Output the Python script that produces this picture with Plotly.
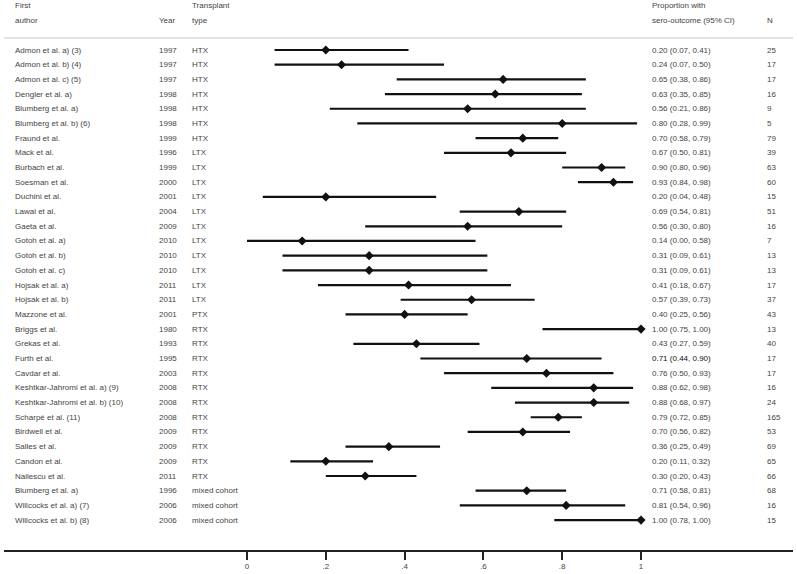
import plotly.graph_objects as go

authors = ["Admon et al. a) (3)", "Admon et al. b) (4)", "Admon et al. c) (5)", "Dengler et al. a)",
           "Blumberg et al. a)", "Blumberg et al. b) (6)", "Fraund et al.", "Mack et al.",
           "Burbach et al.", "Soesman et al.", "Duchini et al.", "Lawal et al.", "Gaeta et al.",
           "Gotoh et al. a)", "Gotoh et al. b)", "Gotoh et al. c)", "Hojsak et al. a)",
           "Hojsak et al. b)", "Mazzone et al.", "Briggs et al.", "Grekas et al.", "Furth et al.",
           "Cavdar et al.", "Keshtkar-Jahromi et al. a) (9)", "Keshtkar-Jahromi et al. b) (10)",
           "Scharpé et al. (11)", "Birdwell et al.", "Salles et al.", "Candon et al.",
           "Nailescu et al.", "Blumberg et al. a)", "Willcocks et al. a) (7)", "Willcocks et al. b) (8)"]
years = [1997, 1997, 1997, 1998, 1998, 1998, 1999, 1996, 1999, 2000, 2001, 2004, 2009,
         2010, 2010, 2010, 2011, 2011, 2001, 1980, 1993, 1995, 2003, 2008, 2008, 2008,
         2009, 2009, 2009, 2011, 1996, 2006, 2006]
types = ["HTX"] * 7 + ["LTX"] * 11 + ["PTX"] + ["RTX"] * 11 + ["mixed cohort"] * 3
est = [0.20, 0.24, 0.65, 0.63, 0.56, 0.80, 0.70, 0.67, 0.90, 0.93, 0.20, 0.69, 0.56,
       0.14, 0.31, 0.31, 0.41, 0.57, 0.40, 1.00, 0.43, 0.71, 0.76, 0.88, 0.88, 0.79,
       0.70, 0.36, 0.20, 0.30, 0.71, 0.81, 1.00]
lo = [0.07, 0.07, 0.38, 0.35, 0.21, 0.28, 0.58, 0.50, 0.80, 0.84, 0.04, 0.54, 0.30,
      0.00, 0.09, 0.09, 0.18, 0.39, 0.25, 0.75, 0.27, 0.44, 0.50, 0.62, 0.68, 0.72,
      0.56, 0.25, 0.11, 0.20, 0.58, 0.54, 0.78]
hi = [0.41, 0.50, 0.86, 0.85, 0.86, 0.99, 0.79, 0.81, 0.96, 0.98, 0.48, 0.81, 0.80,
      0.58, 0.61, 0.61, 0.67, 0.73, 0.56, 1.00, 0.59, 0.90, 0.93, 0.98, 0.97, 0.85,
      0.82, 0.49, 0.32, 0.43, 0.81, 0.96, 1.00]
ns = [25, 17, 17, 16, 9, 5, 79, 39, 63, 60, 15, 51, 16, 7, 13, 13, 17, 37, 43, 13, 40,
      17, 17, 16, 24, 165, 53, 69, 65, 66, 68, 16, 15]
tick_vals = [0, 0.2, 0.4, 0.6, 0.8, 1.0]
tick_text = ["0", ".2", ".4", ".6", ".8", "1"]

W, H = 797, 574
ML, MR, MB = 4, 4, 24
rows = list(range(len(authors)))

fig = go.Figure()
# CI lines
xs, ys = [], []
for i in rows:
    xs += [lo[i], hi[i], None]
    ys += [i, i, None]
fig.add_trace(go.Scatter(x=xs, y=ys, mode="lines", line=dict(color="#111111", width=2.2),
                         hoverinfo="skip", showlegend=False))
fig.add_trace(go.Scatter(x=est, y=rows, mode="markers",
                         marker=dict(symbol="diamond", size=7, color="#111111"),
                         showlegend=False))

def px2paper(p):
    return (p - ML) / (W - ML - MR)

TXT = dict(family="Liberation Sans, Arial, sans-serif", size=8, color="#444444")
ann = []
def add(xpx, y, text, color=None):
    f = dict(TXT)
    if color:
        f["color"] = color
    ann.append(dict(x=px2paper(xpx), xref="paper", y=y, yref="y", text=text,
                    showarrow=False, xanchor="left", yanchor="middle", font=f))

for i in rows:
    add(13, i, authors[i])
    add(157, i, str(years[i]))
    add(190, i, types[i])
    add(650, i, f"{est[i]:.2f} ({lo[i]:.2f}, {hi[i]:.2f})",
        color="#111111" if authors[i] == "Furth et al." else None)
    add(765, i, str(ns[i]))

# headers
add(13, -3.0, "First")
add(13, -2.0, "author")
add(157, -2.0, "Year")
add(190, -3.0, "Transplant")
add(190, -2.0, "type")
add(650, -3.0, "Proportion with")
add(650, -2.0, "sero-outcome (95% CI)")
add(765, -2.0, "N")

fig.add_shape(type="line", xref="paper", yref="y", x0=0, x1=1, y0=-0.82, y1=-0.82,
              line=dict(color="#c8c8c8", width=1))

x0 = -(247 - ML) / 394
x1 = (W - MR - 247) / 394
row_h = 14.69
top = -50 / row_h
bottom = top + (H - MB) / row_h

fig.update_layout(
    width=W, height=H, margin=dict(l=ML, r=MR, t=0, b=MB),
    paper_bgcolor="white", plot_bgcolor="white",
    annotations=ann,
    xaxis=dict(range=[x0, x1], showgrid=False, zeroline=False, showline=True,
               linecolor="#222222", linewidth=1.5, ticks="outside", ticklen=8,
               tickwidth=2, tickcolor="#222222", tickvals=tick_vals, ticktext=tick_text,
               tickfont=dict(family="Liberation Sans, Arial, sans-serif", size=8, color="#444444")),
    yaxis=dict(range=[bottom, top], showgrid=False, zeroline=False, showline=False,
               showticklabels=False, ticks=""),
)
fig.write_html("out.html", config={"displayModeBar": False},
               post_script="document.body.style.margin='0';document.body.style.overflow='hidden';")
